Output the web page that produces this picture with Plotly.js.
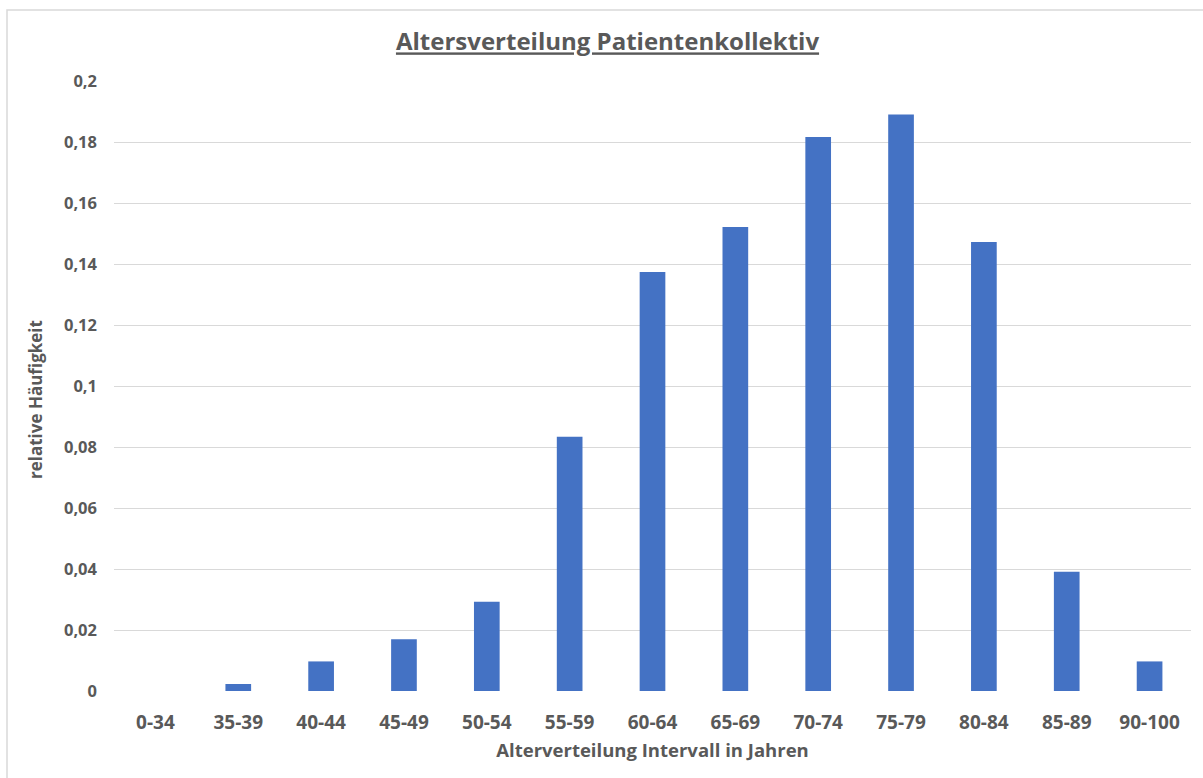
<!DOCTYPE html>
<html>
<head>
<meta charset="utf-8">
<script src="https://cdn.plot.ly/plotly-3.0.1.min.js"></script>
<style>
  html, body { margin: 0; padding: 0; background: #ffffff; }
  #chart { width: 1203px; height: 778px; }
</style>
</head>
<body>
<div id="chart"></div>
<script>
// Age groups of the patient cohort
const ageGroups = ['0-34', '35-39', '40-44', '45-49', '50-54', '55-59', '60-64',
                   '65-69', '70-74', '75-79', '80-84', '85-89', '90-100'];

// Relative frequency per age group
const relFrequency = [0, 0.0023, 0.0097, 0.0170, 0.0293, 0.0834, 0.1374,
                      0.1521, 0.1816, 0.1890, 0.1472, 0.0391, 0.0097];

// Y axis ticks with German decimal comma
const yTickValues = [0, 0.02, 0.04, 0.06, 0.08, 0.1, 0.12, 0.14, 0.16, 0.18, 0.2];
const yTickLabels = ['0', '0,02', '0,04', '0,06', '0,08', '0,1', '0,12', '0,14', '0,16', '0,18', '0,2'];

const FONT = "'Open Sans', 'Noto Sans', sans-serif";
const TEXT = '#595959';
const GRID = '#d9d9d9';

const trace = {
  type: 'bar',
  x: ageGroups,
  y: relFrequency,
  marker: { color: '#4472c4', line: { width: 0 } },
  hoverinfo: 'skip'
};

const layout = {
  width: 1203,
  height: 778,
  margin: { l: 114, r: 12, t: 81, b: 87 },
  paper_bgcolor: '#ffffff',
  plot_bgcolor: '#ffffff',
  bargap: 0.69,
  showlegend: false,
  font: { family: FONT, color: TEXT },
  title: {
    text: 'Altersverteilung Patientenkollektiv',
    font: { family: FONT, size: 24, color: TEXT, weight: 'bold', lineposition: 'under' },
    x: 0.505,
    xref: 'container',
    xanchor: 'center',
    y: 0.946,
    yref: 'container',
    yanchor: 'middle'
  },
  xaxis: {
    type: 'category',
    tickfont: { family: FONT, size: 19, color: TEXT, weight: 'bold' },
    ticks: '',
    ticklabelstandoff: 18,
    showgrid: false,
    showline: false,
    zeroline: false,
    title: {
      text: 'Alterverteilung Intervall in Jahren',
      font: { family: FONT, size: 18.5, color: TEXT, weight: 'bold' },
      standoff: 10
    }
  },
  yaxis: {
    range: [0, 0.2],
    tickvals: yTickValues,
    ticktext: yTickLabels,
    tickfont: { family: FONT, size: 16.5, color: TEXT, weight: 'bold' },
    ticks: '',
    ticklabelstandoff: 16,
    showgrid: true,
    gridcolor: GRID,
    gridwidth: 1,
    zeroline: false,
    showline: false
  },
  annotations: [{
    // y axis title, placed beside the tick labels
    text: 'relative Häufigkeit',
    textangle: -90,
    font: { family: FONT, size: 17, color: TEXT, weight: 'bold' },
    xref: 'paper', yref: 'paper',
    x: (36 - 114) / 1077,
    y: (691 - 400) / 610,
    xanchor: 'center', yanchor: 'middle',
    showarrow: false
  }],
  shapes: [{
    // chart frame
    type: 'rect',
    xref: 'paper', yref: 'paper',
    x0: (7 - 114) / 1077, x1: (1230 - 114) / 1077,
    y0: (691 - 800) / 610, y1: (691 - 10) / 610,
    line: { color: GRID, width: 1.5 },
    fillcolor: 'rgba(0,0,0,0)',
    layer: 'below'
  }]
};

Plotly.newPlot('chart', [trace], layout, { displayModeBar: false, staticPlot: true });
</script>
</body>
</html>
